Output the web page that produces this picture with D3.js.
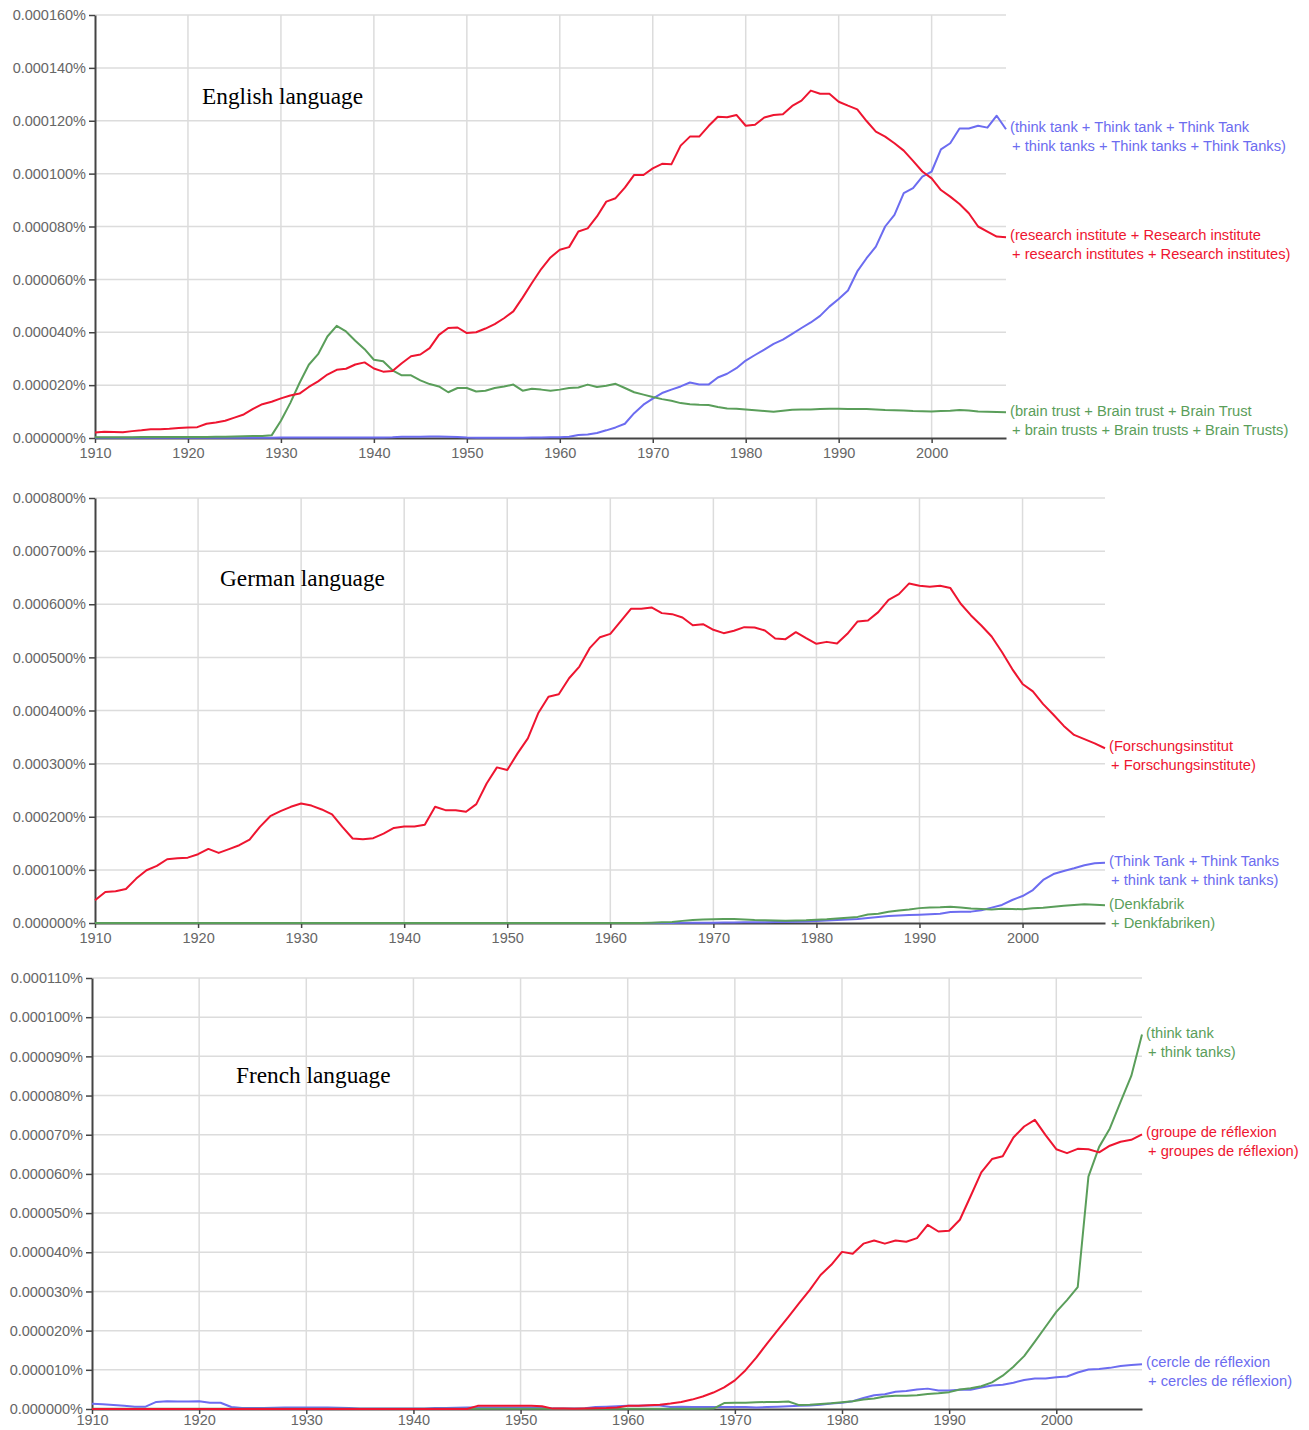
<!DOCTYPE html>
<html>
<head>
<meta charset="utf-8">
<script src="https://cdnjs.cloudflare.com/ajax/libs/d3/7.8.5/d3.min.js"></script>
<style>
  html, body { margin: 0; padding: 0; background: #fff; }
  svg { display: block; }
  .tick text { font-family: "Liberation Sans", Arial, sans-serif; }
</style>
</head>
<body>
<svg id="chart" width="1309" height="1430"></svg>
<script>
// ---------- DATA (values in units of 0.000001 %) ----------
const years = d3.range(1910, 2009);
const xTickYears = [1910, 1920, 1930, 1940, 1950, 1960, 1970, 1980, 1990, 2000];

const enTicks = [0, 20, 40, 60, 80, 100, 120, 140, 160];
const deTicks = [0, 100, 200, 300, 400, 500, 600, 700, 800];
const frTicks = [0, 10, 20, 30, 40, 50, 60, 70, 80, 90, 100, 110];

const enResearch = [
  2.1, 2.4, 2.3, 2.2, 2.6, 2.9, 3.3, 3.3, 3.5, 3.8,
  4.0, 4.1, 5.4, 5.9, 6.5, 7.7, 8.9, 11.0, 12.8, 13.7,
  15.0, 16.1, 16.8, 19.3, 21.4, 24.0, 25.8, 26.2, 27.8, 28.6,
  26.3, 25.1, 25.3, 28.3, 30.9, 31.6, 34.0, 39.0, 41.6, 41.8,
  39.7, 40.0, 41.4, 43.1, 45.3, 47.9, 53.1, 58.6, 63.9, 68.3,
  71.2, 72.2, 78.1, 79.3, 83.8, 89.4, 90.7, 94.7, 99.5, 99.5,
  102.0, 103.7, 103.5, 110.6, 114.0, 114.0, 118.0, 121.5, 121.3, 122.2,
  118.1, 118.5, 121.2, 122.2, 122.5, 125.6, 127.6, 131.4, 130.2, 130.2,
  127.2, 125.7, 124.3, 119.9, 115.9, 114.0, 111.5, 108.7, 104.8, 100.8,
  98.2, 93.8, 91.3, 88.5, 85.0, 80.0, 78.1, 76.2, 75.9
];
const enThinkTank = [
  0.1, 0.1, 0.1, 0.1, 0.1, 0.1, 0.1, 0.1, 0.1, 0.1,
  0.1, 0.1, 0.1, 0.1, 0.1, 0.1, 0.1, 0.1, 0.1, 0.1,
  0.2, 0.2, 0.2, 0.2, 0.2, 0.2, 0.2, 0.2, 0.2, 0.2,
  0.2, 0.2, 0.3, 0.5, 0.5, 0.5, 0.6, 0.6, 0.5, 0.4,
  0.2, 0.1, 0.1, 0.1, 0.1, 0.1, 0.1, 0.2, 0.2, 0.3,
  0.3, 0.5, 1.1, 1.3, 1.9, 2.9, 4.0, 5.4, 9.4, 12.6,
  14.9, 17.0, 18.3, 19.5, 21.0, 20.2, 20.2, 22.9, 24.3, 26.4,
  29.3, 31.4, 33.4, 35.6, 37.2, 39.4, 41.6, 43.7, 46.2, 49.7,
  52.6, 55.8, 63.0, 68.0, 72.4, 80.0, 84.4, 92.6, 94.5, 98.9,
  100.8, 109.2, 111.5, 117.1, 117.1, 118.1, 117.4, 121.9, 116.8
];
const enBrainTrust = [
  0.3, 0.3, 0.3, 0.3, 0.3, 0.4, 0.4, 0.4, 0.4, 0.4,
  0.4, 0.4, 0.4, 0.5, 0.5, 0.6, 0.7, 0.8, 0.8, 1.0,
  6.5, 13.2, 20.8, 27.7, 31.7, 38.4, 42.4, 40.3, 36.8, 33.6,
  29.6, 29.0, 25.6, 23.7, 23.7, 21.8, 20.4, 19.5, 17.3, 18.9,
  18.9, 17.6, 17.9, 18.9, 19.5, 20.2, 17.9, 18.6, 18.3, 17.9,
  18.3, 18.9, 19.1, 20.2, 19.3, 19.8, 20.5, 18.9, 17.3, 16.4,
  15.5, 14.7, 14.1, 13.2, 12.8, 12.6, 12.5, 11.7, 11.2, 11.1,
  10.8, 10.5, 10.2, 9.9, 10.3, 10.7, 10.8, 10.8, 11.0, 11.1,
  11.1, 11.0, 11.0, 11.0, 10.8, 10.6, 10.5, 10.4, 10.2, 10.1,
  10.0, 10.2, 10.3, 10.6, 10.4, 10.0, 9.9, 9.8, 9.7
];

const deForschung = [
  42.7, 58.5, 59.7, 64.0, 83.6, 99.3, 107.5, 120.0, 122.0, 123.0,
  129.5, 139.5, 132.0, 139.0, 146.4, 157.0, 181.0, 201.0, 210.6, 218.7,
  225.0, 221.0, 213.7, 204.3, 181.0, 159.0, 157.8, 159.6, 168.4, 179.0,
  181.6, 181.6, 184.8, 218.7, 212.4, 212.4, 209.3, 223.8, 262.7, 292.9,
  287.9, 319.3, 347.6, 394.7, 426.0, 430.5, 460.7, 482.7, 517.3, 538.0,
  544.3, 567.6, 591.5, 591.5, 594.0, 583.3, 581.4, 575.0, 560.6, 562.5,
  551.9, 545.6, 550.0, 556.9, 556.3, 550.6, 535.5, 534.3, 547.5, 536.2,
  525.5, 529.2, 526.1, 544.3, 567.6, 569.5, 585.2, 608.4, 619.1, 639.2,
  634.8, 633.0, 634.8, 630.4, 600.9, 578.9, 560.0, 539.3, 510.0, 478.0,
  450.0, 436.0, 412.0, 392.0, 371.0, 354.0, 346.0, 338.0, 329.0
];
const deThinkTank = [
  0, 0, 0, 0, 0, 0, 0, 0, 0, 0,
  0, 0, 0, 0, 0, 0, 0, 0, 0, 0,
  0, 0, 0, 0, 0, 0, 0, 0, 0, 0,
  0, 0, 0, 0, 0, 0, 0, 0, 0, 0,
  0, 0, 0, 0, 0, 0, 0, 0, 0, 0,
  0, 0, 0, 0, 0, 0, 0.2, 0.3, 0.4, 0.5,
  0.6, 0.8, 1.0, 1.2, 1.4, 1.6, 1.8, 2.0, 2.4, 3.0,
  3.8, 4.5, 5.5, 6.5, 7.5, 9.4, 11.5, 13.0, 14.0, 15.0,
  15.7, 16.5, 17.6, 20.7, 21.0, 21.4, 24.0, 29.0, 34.0, 43.3,
  50.8, 62.0, 81.0, 92.2, 97.9, 102.9, 108.6, 112.3, 113.5
];
const deDenkfabrik = [
  0, 0, 0, 0, 0, 0, 0, 0, 0, 0,
  0, 0, 0, 0, 0, 0, 0, 0, 0, 0,
  0, 0, 0, 0, 0, 0, 0, 0, 0, 0,
  0, 0, 0, 0, 0, 0, 0, 0, 0, 0,
  0, 0, 0, 0, 0, 0, 0, 0, 0, 0,
  0, 0, 0, 0, 0.5, 1.2, 2.0, 4.0, 5.7, 6.5,
  7.0, 7.5, 7.3, 6.5, 5.5, 5.0, 4.5, 4.3, 4.5, 5.0,
  6.3, 7.0, 8.5, 10.0, 11.5, 16.0, 17.5, 21.0, 23.5, 25.5,
  28.0, 29.0, 29.5, 30.5, 29.0, 27.5, 26.5, 25.5, 27.0, 26.5,
  25.7, 27.6, 28.9, 30.7, 32.6, 33.9, 35.1, 34.5, 33.2
];

const frCercle = [
  1.37, 1.2, 1.0, 0.85, 0.6, 0.6, 1.8, 2.0, 1.9, 1.9,
  2.0, 1.6, 1.6, 0.5, 0.25, 0.25, 0.25, 0.3, 0.4, 0.4,
  0.4, 0.4, 0.4, 0.35, 0.25, 0.1, 0.1, 0.1, 0.1, 0.1,
  0.1, 0.15, 0.25, 0.25, 0.35, 0.4, 0.4, 0.4, 0.4, 0.4,
  0.4, 0.4, 0.3, 0.1, 0.1, 0.1, 0.2, 0.5, 0.6, 0.7,
  0.85, 0.85, 0.9, 0.9, 0.5, 0.6, 0.5, 0.5, 0.5, 0.5,
  0.5, 0.5, 0.4, 0.5, 0.6, 0.7, 0.85, 0.9, 1.1, 1.4,
  1.6, 2.0, 2.8, 3.5, 3.75, 4.4, 4.6, 5.0, 5.2, 4.7,
  4.7, 4.9, 4.9, 5.5, 6.0, 6.2, 6.7, 7.4, 7.8, 7.8,
  8.1, 8.3, 9.3, 10.1, 10.2, 10.5, 11.0, 11.2, 11.4
];
const frGroupe = [
  0, 0, 0, 0, 0, 0, 0, 0, 0, 0,
  0, 0, 0, 0, 0, 0, 0, 0, 0, 0,
  0, 0, 0, 0, 0, 0, 0, 0, 0, 0,
  0, 0, 0, 0, 0, 0, 0.8, 0.8, 0.8, 0.8,
  0.8, 0.8, 0.7, 0.1, 0.1, 0.05, 0.1, 0.2, 0.25, 0.4,
  0.8, 0.85, 0.95, 1.1, 1.4, 1.8, 2.4, 3.2, 4.2, 5.5,
  7.3, 9.9, 13.1, 16.7, 20.1, 23.5, 27.0, 30.4, 34.2, 36.8,
  40.1, 39.6, 42.2, 43.0, 42.2, 43.0, 42.7, 43.6, 47.0, 45.3,
  45.5, 48.3, 54.3, 60.4, 63.8, 64.5, 69.3, 72.1, 73.8, 69.9,
  66.3, 65.3, 66.4, 66.3, 65.5, 67.2, 68.2, 68.7, 70.1
];
const frThinkTank = [
  0.05, 0.05, 0.05, 0.05, 0.05, 0.05, 0.05, 0.05, 0.05, 0.05,
  0.05, 0.05, 0.05, 0.05, 0.05, 0.05, 0.05, 0.05, 0.05, 0.05,
  0.05, 0.05, 0.05, 0.05, 0.05, 0.05, 0.05, 0.05, 0.05, 0.05,
  0.05, 0.05, 0.05, 0.05, 0.05, 0.05, 0.05, 0.05, 0.05, 0.05,
  0.05, 0.05, 0.05, 0.05, 0.05, 0.05, 0.05, 0.05, 0.05, 0.05,
  0.05, 0.05, 0.05, 0.05, 0.05, 0.05, 0.05, 0.05, 0.1, 1.5,
  1.6, 1.6, 1.7, 1.8, 1.8, 1.9, 1.0, 1.1, 1.3, 1.45,
  1.7, 2.0, 2.4, 2.7, 3.2, 3.4, 3.4, 3.5, 3.8, 4.0,
  4.3, 5.0, 5.3, 5.8, 6.8, 8.5, 10.8, 13.5, 17.2, 21.0,
  24.8, 27.8, 31.1, 59.3, 66.9, 71.6, 78.4, 85.0, 95.6
];

const enLabels = {
  thinkTank: ["(think tank + Think tank + Think Tank", "+ think tanks + Think tanks + Think Tanks)"],
  research: ["(research institute + Research institute", "+ research institutes + Research institutes)"],
  brainTrust: ["(brain trust + Brain trust + Brain Trust", "+ brain trusts + Brain trusts + Brain Trusts)"]
};
const deLabels = {
  forschung: ["(Forschungsinstitut", "+ Forschungsinstitute)"],
  thinkTank: ["(Think Tank + Think Tanks", "+ think tank + think tanks)"],
  denkfabrik: ["(Denkfabrik", "+ Denkfabriken)"]
};
const frLabels = {
  thinkTank: ["(think tank", "+ think tanks)"],
  groupe: ["(groupe de réflexion", "+ groupes de réflexion)"],
  cercle: ["(cercle de réflexion", "+ cercles de réflexion)"]
};

// ---------- STYLE ----------
const RED = "#ee1530";
const BLUE = "#6c6cf0";
const GREEN = "#5a9e5a";

const panels = [
  {
    title: "English language", titleX: 202, titleY: 104,
    x0: 95, x1: 1006, yTop: 15, yBot: 438, max: 160, ticks: enTicks, xPad: 5,
    series: [
      { values: enThinkTank, color: BLUE, label: enLabels.thinkTank },
      { values: enBrainTrust, color: GREEN, label: enLabels.brainTrust },
      { values: enResearch, color: RED, label: enLabels.research }
    ]
  },
  {
    title: "German language", titleX: 220, titleY: 586,
    x0: 95, x1: 1105, yTop: 498, yBot: 923, max: 800, ticks: deTicks, xPad: 5,
    series: [
      { values: deThinkTank, color: BLUE, label: deLabels.thinkTank },
      { values: deDenkfabrik, color: GREEN, label: deLabels.denkfabrik },
      { values: deForschung, color: RED, label: deLabels.forschung }
    ]
  },
  {
    title: "French language", titleX: 236, titleY: 1083,
    x0: 92, x1: 1142, yTop: 978, yBot: 1409, max: 110, ticks: frTicks, xPad: 1,
    series: [
      { values: frCercle, color: BLUE, label: frLabels.cercle },
      { values: frThinkTank, color: GREEN, label: frLabels.thinkTank },
      { values: frGroupe, color: RED, label: frLabels.groupe }
    ]
  }
];

const svg = d3.select("#chart");
svg.append("rect").attr("width", 1309).attr("height", 1430).attr("fill", "#fff");

const fmt = v => (v / 1e6).toFixed(6) + "%";

panels.forEach(p => {
  const x = d3.scaleLinear().domain([1910, 2008]).range([p.x0, p.x1]);
  const y = d3.scaleLinear().domain([0, p.max]).range([p.yBot, p.yTop]);
  const g = svg.append("g");

  // gridlines
  g.append("g").selectAll("line.h").data(p.ticks.filter(t => t > 0)).join("line")
    .attr("x1", p.x0).attr("x2", p.x1)
    .attr("y1", d => y(d)).attr("y2", d => y(d))
    .attr("stroke", "#dcdcdc").attr("stroke-width", 1.5);
  g.append("g").selectAll("line.v").data(xTickYears.filter(t => t > 1910)).join("line")
    .attr("x1", d => x(d)).attr("x2", d => x(d))
    .attr("y1", p.yTop).attr("y2", p.yBot)
    .attr("stroke", "#dcdcdc").attr("stroke-width", 1.5);

  // axes
  const yAxis = g.append("g").attr("transform", `translate(${p.x0},0)`)
    .call(d3.axisLeft(y).tickValues(p.ticks).tickFormat(fmt).tickSize(6).tickSizeOuter(0));
  const xAxis = g.append("g").attr("transform", `translate(0,${p.yBot})`)
    .call(d3.axisBottom(x).tickValues(xTickYears).tickFormat(d3.format("d")).tickSize(5).tickPadding(p.xPad).tickSizeOuter(0));
  [yAxis, xAxis].forEach(a => {
    a.select(".domain").attr("stroke", "#444").attr("stroke-width", 2);
    a.selectAll(".tick line").attr("stroke", "#444").attr("stroke-width", 1.5);
    a.selectAll(".tick text").attr("fill", "#666").attr("font-size", 14.5);
  });

  // lines
  const line = d3.line().x((d, i) => x(years[i])).y(d => y(d));
  p.series.forEach(s => {
    g.append("path").datum(s.values)
      .attr("fill", "none").attr("stroke", s.color).attr("stroke-width", 2)
      .attr("stroke-linejoin", "round").attr("d", line);
  });

  // labels
  p.series.forEach(s => {
    const endY = y(s.values[s.values.length - 1]);
    const t = g.append("text")
      .attr("font-family", '"Liberation Sans", Arial, sans-serif')
      .attr("font-size", 14.7).attr("fill", s.color);
    t.append("tspan").attr("x", p.x1 + 4).attr("y", endY - 2).attr("dy", "0.35em").text(s.label[0]);
    t.append("tspan").attr("x", p.x1 + 6).attr("y", endY + 17).attr("dy", "0.35em").text(s.label[1]);
  });

  // title
  g.append("text").attr("x", p.titleX).attr("y", p.titleY)
    .attr("font-family", '"Liberation Serif", "Times New Roman", serif')
    .attr("font-size", 23.3).attr("fill", "#000").text(p.title);
});
</script>
</body>
</html>
